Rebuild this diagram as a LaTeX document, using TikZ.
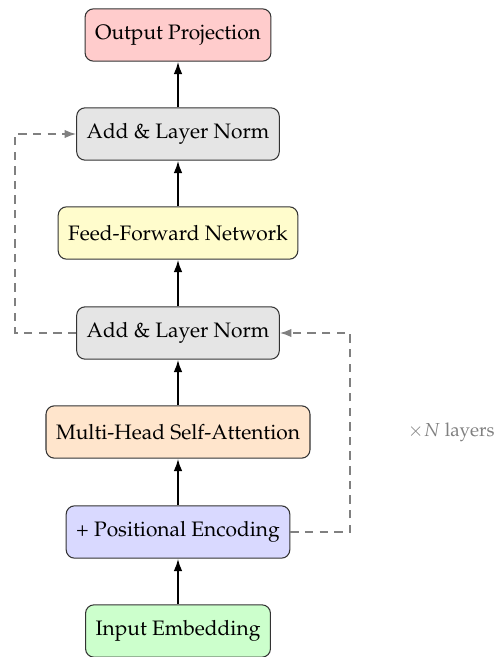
\documentclass[tikz,border=0pt]{standalone}
\usepackage[T1]{fontenc}
\usepackage{mathpazo}
\usetikzlibrary{arrows.meta}
\begin{document}
\begin{tikzpicture}[x=0.478pt,y=-0.478pt,
  block/.style={draw=black!80, rounded corners=4pt, line width=0.5pt,
    minimum height=25pt, inner xsep=4.8pt, font=\normalsize},
  flow/.style={-{Latex[length=6pt,width=4.2pt]}, line width=0.9pt},
  skip/.style={-{Latex[length=5.5pt,width=4pt]}, line width=0.8pt, gray, dashed,
    dash pattern=on 4pt off 3pt}]
\useasboundingbox (0,0) rectangle (496,657);
\node[block, fill=red!20]    (out)  at (178,35)  {Output Projection};
\node[block, fill=gray!20]   (ln2)  at (178,134) {Add \& Layer Norm};
\node[block, fill=yellow!20] (ffn)  at (178,233) {Feed-Forward Network};
\node[block, fill=gray!20]   (ln1)  at (178,333) {Add \& Layer Norm};
\node[block, fill=orange!20] (mhsa) at (178,432) {Multi-Head Self-Attention};
\node[block, fill=blue!15]   (pos)  at (178,532) {+ Positional Encoding};
\node[block, fill=green!20]  (emb)  at (178,631) {Input Embedding};
\draw[flow] (emb) -- (pos);
\draw[flow] (pos) -- (mhsa);
\draw[flow] (mhsa) -- (ln1);
\draw[flow] (ln1) -- (ffn);
\draw[flow] (ffn) -- (ln2);
\draw[flow] (ln2) -- (out);
\coordinate (lc) at (15,0);
\coordinate (rc) at (350,0);
\draw[skip] (ln1.west) -- (ln1.west -| lc) -- (ln2.west -| lc) -- (ln2.west);
\draw[skip] (pos.east) -- (pos.east -| rc) -- (ln1.east -| rc) -- (ln1.east);
\node[anchor=east, text=gray, inner sep=0pt, font=\small] (rep) at (495,432) {$\times N$ layers};
\end{tikzpicture}
\end{document}
